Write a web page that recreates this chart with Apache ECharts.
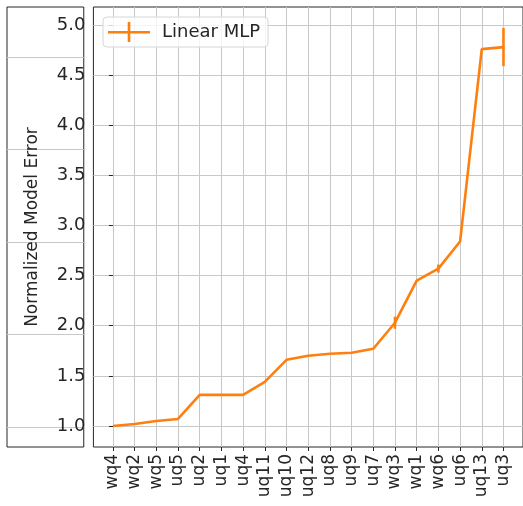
<!DOCTYPE html>
<html>
<head>
<meta charset="utf-8">
<script src="https://cdn.jsdelivr.net/npm/echarts@6/dist/echarts.min.js"></script>
<style>
  html, body { margin: 0; padding: 0; background: #fff; }
  #chart { width: 523px; height: 506px; }
</style>
</head>
<body>
<div id="chart"></div>
<script>
  // categories along x, sorted by error
  var categories = ['wq4', 'wq2', 'wq5', 'uq5', 'uq2', 'uq1', 'uq4', 'uq11', 'uq10', 'uq12',
                    'uq8', 'uq9', 'uq7', 'wq3', 'wq1', 'wq6', 'uq6', 'uq13', 'uq3']
  var errorValues = [1.00, 1.02, 1.05, 1.07, 1.31, 1.31, 1.31, 1.44, 1.66, 1.70,
                     1.72, 1.73, 1.77, 2.03, 2.45, 2.57, 2.84, 4.76, 4.78]
  var errorSpread = [0, 0, 0, 0, 0, 0, 0, 0, 0, 0,
                     0, 0, 0, 0.06, 0, 0.04, 0, 0, 0.19]
  var yTicks = [1.0, 1.5, 2.0, 2.5, 3.0, 3.5, 4.0, 4.5, 5.0]
  var leftPanelTicks = [0, 1, 2, 3, 4]

  var orange = '#ff7f0e'
  var font = 'DejaVu Sans'
  var xIdx = categories.map(function (c, i) { return i })

  var chart = echarts.init(document.getElementById('chart'))
  chart.setOption({
    animation: false,
    grid: [
      { // main panel
        left: 93.4, right: -1.4, top: 7, bottom: 59,
        show: true, borderColor: '#262626', borderWidth: 1, backgroundColor: 'transparent'
      },
      { // neighbour panel, only its right edge is visible
        left: -300, right: 516, top: 7, bottom: 59,
        show: true, borderColor: '#262626', borderWidth: 1
      }
    ],
    legend: {
      data: ['Linear MLP'],
      left: 103, top: 17,
      padding: [5, 8, 5, 5],
      itemWidth: 42, itemHeight: 20, itemGap: 10,
      icon: 'path://M0,9h42v2.6H0z M19.7,0h2.6v20h-2.6z',
      backgroundColor: 'rgba(255,255,255,0.8)',
      borderColor: '#d6d6d6', borderWidth: 1, borderRadius: 4,
      textStyle: { fontFamily: font, fontSize: 18, color: '#262626', padding: [0, 0, 0, 7] }
    },
    xAxis: [
      {
        type: 'value', gridIndex: 0,
        min: -0.9, max: 18.9,
        axisLine: { show: false },
        axisTick: { show: true, length: 4, inside: false, customValues: xIdx,
                    lineStyle: { color: '#262626' } },
        axisLabel: {
          customValues: xIdx, rotate: 90, margin: 7,
          fontFamily: font, fontSize: 17, color: '#262626',
          formatter: function (v) { return categories[Math.round(v)] }
        },
        splitLine: { show: true, lineStyle: { color: '#c8c8c8', width: 1 } }
      },
      {
        type: 'value', gridIndex: 1, min: 0, max: 1,
        axisLine: { show: false }, axisTick: { show: false },
        axisLabel: { show: false }, splitLine: { show: false }
      }
    ],
    yAxis: [
      {
        type: 'value', gridIndex: 0,
        min: 0.79, max: 5.18,
        name: 'Normalized Model Error',
        nameLocation: 'middle', nameGap: 52,
        nameTextStyle: { fontFamily: font, fontSize: 17, color: '#262626' },
        axisLine: { show: false },
        axisTick: { show: true, length: 4, customValues: yTicks, lineStyle: { color: '#262626' } },
        axisLabel: {
          customValues: yTicks, margin: 8,
          fontFamily: font, fontSize: 18, color: '#262626',
          formatter: function (v) { return v.toFixed(1) }
        },
        splitLine: { show: true, lineStyle: { color: '#c8c8c8', width: 1 } }
      },
      {
        type: 'value', gridIndex: 1,
        min: -0.216, max: 4.54,
        axisLine: { show: false },
        axisTick: { show: false, customValues: leftPanelTicks },
        axisLabel: { show: false, customValues: leftPanelTicks },
        splitLine: { show: true, lineStyle: { color: '#c8c8c8', width: 1 } }
      }
    ],
    series: [
      {
        name: 'Linear MLP',
        type: 'line',
        xAxisIndex: 0, yAxisIndex: 0,
        data: errorValues.map(function (v, i) { return [i, v] }),
        showSymbol: false,
        lineStyle: { color: orange, width: 2.6 },
        itemStyle: { color: orange },
        z: 3
      },
      {
        name: 'Linear MLP',
        type: 'custom',
        xAxisIndex: 0, yAxisIndex: 0,
        data: errorValues.map(function (v, i) { return [i, v, errorSpread[i]] }),
        renderItem: function (params, api) {
          var e = api.value(2)
          if (!e) return null
          var lo = api.coord([api.value(0), api.value(1) - e])
          var hi = api.coord([api.value(0), api.value(1) + e])
          return {
            type: 'line',
            shape: { x1: lo[0], y1: lo[1], x2: hi[0], y2: hi[1] },
            style: { stroke: orange, lineWidth: 2.6 }
          }
        },
        z: 3
      }
    ]
  })
</script>
</body>
</html>
